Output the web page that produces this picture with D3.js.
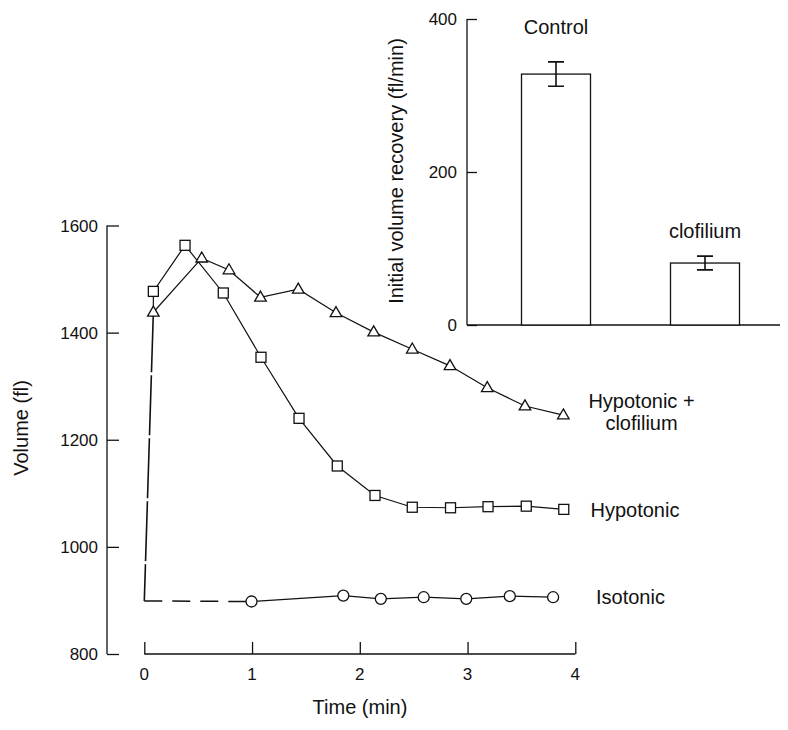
<!DOCTYPE html>
<html>
<head>
<meta charset="utf-8">
<script src="https://cdn.jsdelivr.net/npm/d3@7"></script>
<style>
  html, body { margin: 0; padding: 0; background: #fff; }
  svg { display: block; font-family: "Liberation Sans", Arial, sans-serif; }
</style>
</head>
<body>
<svg id="chart" width="788" height="730"></svg>
<script>
// ---------------- data ----------------
const timeTicks = [0, 1, 2, 3, 4];
const volumeTicks = [800, 1000, 1200, 1400, 1600];

const hypoClofTime = [0.084, 0.533, 0.786, 1.078, 1.429, 1.779, 2.129, 2.487, 2.837, 3.183, 3.533, 3.889];
const hypoClofVol  = [1438, 1539, 1517, 1466, 1481, 1437, 1401, 1369, 1338, 1297, 1263, 1246];

const hypoTime = [0.084, 0.378, 0.733, 1.083, 1.436, 1.791, 2.141, 2.487, 2.842, 3.190, 3.545, 3.893];
const hypoVol  = [1477, 1563, 1474, 1354, 1240, 1151, 1096, 1074, 1073, 1075, 1076, 1070];

const isoTime = [0.995, 1.847, 2.195, 2.593, 2.988, 3.392, 3.794];
const isoVol  = [898, 909, 903, 906, 903, 908, 906];

// dashed baseline / swelling trace (no markers)
const dashTime = [0.084, 0, 0.995];
const dashVol  = [1438, 899, 898];

const seriesLabels = ["Hypotonic +\nclofilium", "Hypotonic", "Isotonic"];

// inset bar chart
const barCategories = ["Control", "clofilium"];
const barValues = [328, 81];
const barErrors = [16, 9];
const barTicks = [0, 200, 400];

// ---------------- drawing ----------------
const svg = d3.select("#chart");
const ink = "#111";

// main scales
const x = d3.scaleLinear().domain([0, 4]).range([144.3, 575.3]);
const y = d3.scaleLinear().domain([800, 1600]).range([654, 225.5]);
const yAxisX = 107;

const main = svg.append("g");

// y axis (ticks pointing inward)
const yAx = main.append("g").attr("transform", `translate(${yAxisX},0)`)
  .call(d3.axisRight(y).tickValues(volumeTicks).tickSize(12).tickFormat(""));
yAx.select(".domain").attr("d", `M0,${y(1600)}V${y(800)}`);
yAx.selectAll("line, path").attr("stroke", ink).attr("stroke-width", 1.3);
main.selectAll(".ylab").data(volumeTicks).join("text")
  .attr("x", yAxisX - 9).attr("y", d => y(d)).attr("dy", "0.36em")
  .attr("text-anchor", "end").attr("font-size", 17).attr("fill", ink)
  .text(d => d);

// x axis (ticks pointing up)
const xAx = main.append("g").attr("transform", `translate(0,${y(800)})`)
  .call(d3.axisTop(x).tickValues(timeTicks).tickSize(12).tickFormat(""));
xAx.select(".domain").attr("d", `M${x(0)},0H${x(4)}`);
xAx.selectAll("line, path").attr("stroke", ink).attr("stroke-width", 1.3);
main.selectAll(".xlab").data(timeTicks).join("text")
  .attr("x", d => x(d)).attr("y", y(800) + 20).attr("dy", "0.36em")
  .attr("text-anchor", "middle").attr("font-size", 17).attr("fill", ink)
  .text(d => d);

// axis titles
main.append("text").attr("x", 360).attr("y", 707).attr("dy", "0.36em")
  .attr("text-anchor", "middle").attr("font-size", 20).attr("fill", ink)
  .text("Time (min)");
main.append("text").attr("transform", "translate(21,428) rotate(-90)").attr("dy", "0.36em")
  .attr("text-anchor", "middle").attr("font-size", 20).attr("fill", ink)
  .text("Volume (fl)");

const line = d3.line().x(d => x(d[0])).y(d => y(d[1]));
const zip = (a, b) => a.map((v, i) => [v, b[i]]);

const hypoClofPts = zip(hypoClofTime, hypoClofVol);
const hypoPts = zip(hypoTime, hypoVol);
const isoPts = zip(isoTime, isoVol);
const dashPts = zip(dashTime, dashVol);

// dashed trace: steep rise (long dashes) and baseline (short dashes)
main.append("path").attr("d", line(dashPts.slice(0, 2))).attr("fill", "none")
  .attr("stroke", ink).attr("stroke-width", 1.6).attr("stroke-dasharray", "60,3");
main.append("path").attr("d", line(dashPts.slice(1))).attr("fill", "none")
  .attr("stroke", ink).attr("stroke-width", 1.5).attr("stroke-dasharray", "18,10");

// solid lines
main.append("path").attr("d", line(hypoClofPts)).attr("fill", "none")
  .attr("stroke", ink).attr("stroke-width", 1.2);
main.append("path").attr("d", line([hypoClofPts[0], ...hypoPts])).attr("fill", "none")
  .attr("stroke", ink).attr("stroke-width", 1.2);
main.append("path").attr("d", line(isoPts)).attr("fill", "none")
  .attr("stroke", ink).attr("stroke-width", 1.2);

// markers
const tri = d3.symbol().type(d3.symbolTriangle).size(58);
main.selectAll(".tri").data(hypoClofPts).join("path")
  .attr("d", tri).attr("transform", d => `translate(${x(d[0])},${y(d[1]) + 0.5})`)
  .attr("fill", "#fff").attr("stroke", ink).attr("stroke-width", 1.3);
main.selectAll(".sq").data(hypoPts).join("rect")
  .attr("x", d => x(d[0]) - 5).attr("y", d => y(d[1]) - 5)
  .attr("width", 10).attr("height", 10)
  .attr("fill", "#fff").attr("stroke", ink).attr("stroke-width", 1.3);
main.selectAll(".circ").data(isoPts).join("circle")
  .attr("cx", d => x(d[0])).attr("cy", d => y(d[1])).attr("r", 5.5)
  .attr("fill", "#fff").attr("stroke", ink).attr("stroke-width", 1.3);

// series labels
const labelPos = [[641.5, 400.5], [590.5, 510], [596, 597]];
const labelAnchor = ["middle", "start", "start"];
seriesLabels.forEach((lab, i) => {
  const t = main.append("text").attr("x", labelPos[i][0]).attr("y", labelPos[i][1])
    .attr("text-anchor", labelAnchor[i]).attr("font-size", 20).attr("fill", ink)
    .attr("dy", "0.36em");
  lab.split("\n").forEach((s, j) => {
    t.append("tspan").attr("x", labelPos[i][0]).attr("dy", j === 0 ? "0.36em" : 22.7).text(s);
  });
});

// ---------------- inset ----------------
const inset = svg.append("g");
const yi = d3.scaleLinear().domain([0, 400]).range([325, 19]);
const xi = d3.scalePoint().domain(barCategories).range([556, 705]);
const insetAxisX = 467;
const barW = 69;

const yiAx = inset.append("g").attr("transform", `translate(${insetAxisX},0)`)
  .call(d3.axisRight(yi).tickValues(barTicks).tickSize(10).tickFormat(""));
yiAx.select(".domain").attr("d", `M0,${yi(400)}V${yi(0)}`);
yiAx.selectAll("line, path").attr("stroke", ink).attr("stroke-width", 1.3);
inset.selectAll(".yil").data(barTicks).join("text")
  .attr("x", insetAxisX - 10).attr("y", d => yi(d)).attr("dy", "0.36em")
  .attr("text-anchor", "end").attr("font-size", 17).attr("fill", ink).text(d => d);

inset.append("line").attr("x1", insetAxisX).attr("x2", 780)
  .attr("y1", yi(0)).attr("y2", yi(0)).attr("stroke", ink).attr("stroke-width", 1.3);

inset.append("text").attr("transform", `translate(395.5,171) rotate(-90)`).attr("dy", "0.36em")
  .attr("text-anchor", "middle").attr("font-size", 20).attr("fill", ink)
  .text("Initial volume recovery (fl/min)");

const bars = barCategories.map((c, i) => ({ c, v: barValues[i], e: barErrors[i] }));
inset.selectAll(".bar").data(bars).join("rect")
  .attr("x", d => xi(d.c) - barW / 2).attr("width", barW)
  .attr("y", d => yi(d.v)).attr("height", d => yi(0) - yi(d.v))
  .attr("fill", "#fff").attr("stroke", ink).attr("stroke-width", 1.3);
inset.selectAll(".err").data(bars).join("path")
  .attr("d", d => {
    const cx = xi(d.c), t = yi(d.v + d.e), b = yi(d.v - d.e), w = 8;
    return `M${cx - w},${t}H${cx + w}M${cx},${t}V${b}M${cx - w},${b}H${cx + w}`;
  })
  .attr("fill", "none").attr("stroke", ink).attr("stroke-width", 1.6);

const barLabelGap = [35, 25];
inset.selectAll(".blab").data(bars).join("text")
  .attr("x", d => xi(d.c)).attr("y", (d, i) => yi(d.v + d.e) - barLabelGap[i]).attr("dy", "0.36em")
  .attr("text-anchor", "middle").attr("font-size", 20).attr("fill", ink).text(d => d.c);
</script>
</body>
</html>
